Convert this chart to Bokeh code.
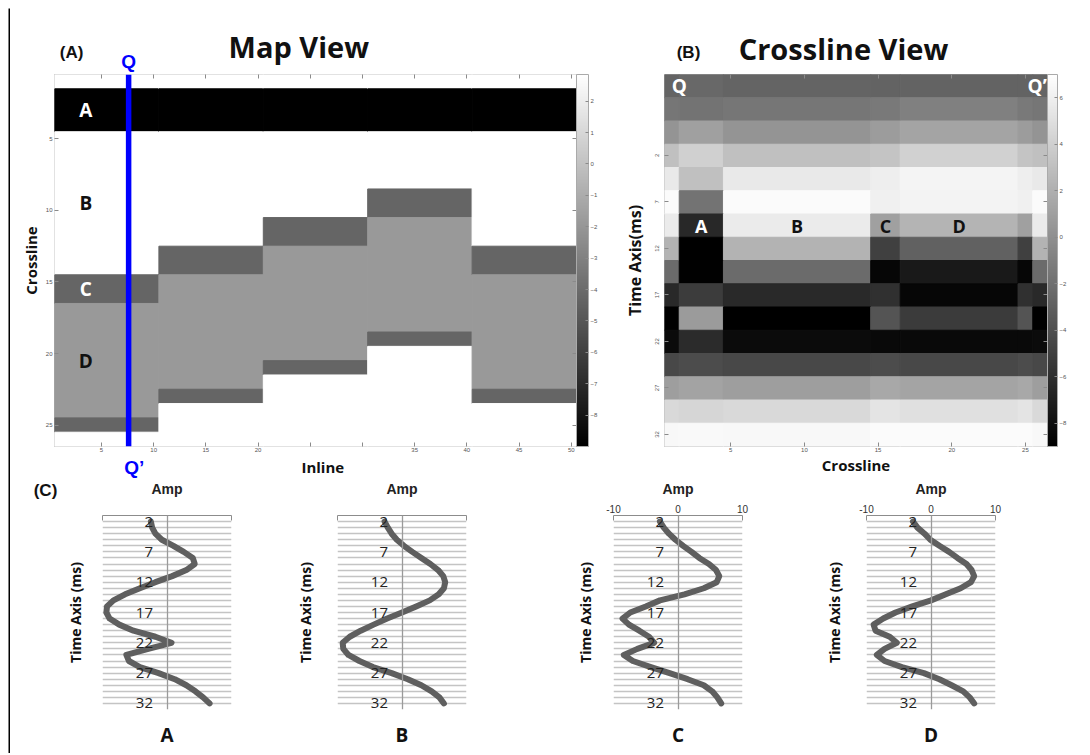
from bokeh.plotting import figure
from bokeh.layouts import row, column
from bokeh.models import (Range1d, LinearAxis, FixedTicker, Grid, ColorBar,
                          LinearColorMapper, Label, ColumnDataSource)
from bokeh.embed import file_html
from bokeh.resources import INLINE

# ------------------------------------------------------------------ data
# Map view: inline groups and the zone met along each crossline (rows 1..26)
inline_groups = [(1, 10), (11, 20), (21, 30), (31, 40), (41, 50)]
map_zones = [
    "BAAABBBBBBBBBBCCDDDDDDDDCB",
    "BAAABBBBBBBBCCDDDDDDDDCBBB",
    "BAAABBBBBBCCDDDDDDDDCBBBBB",
    "BAAABBBBCCDDDDDDDDCBBBBBBB",
    "BAAABBBBBBBBCCDDDDDDDDCBBB",
]
zone_names = ["A", "B", "C", "D"]
zone_map_amp = [-9.0, 2.85, -4.3, -1.9]
map_scale = (-9.0, 2.85)
map_cbar_ticks = [-8, -7, -6, -5, -4, -3, -2, -1, 0, 1, 2]
map_x_ticks = [5, 10, 15, 20, 25, 30, 35, 40, 45, 50]
map_x_labels = ["5", "10", "15", "20", "", "", "35", "40", "45", "50"]
map_y_ticks = [5, 10, 15, 20, 25]
q_inline = 7.6

# Synthetic traces (amplitude vs time, ms)
time_ms = list(range(2, 33))
trace_A = [-2.5, -2.3, -1.8, -0.8, 1.0, 2.6, 4.0, 4.3, 3.0, 0.8, -1.8, -4.2, -6.5, -8.3, -9.3, -9.4,
           -8.9, -7.4, -5.2, -1.8, 0.7, -2.9, -6.3, -5.9, -4.2, -1.3, 1.2, 3.0, 4.4, 5.6, 6.6]
trace_B = [-2.7, -2.2, -1.6, -0.8, 0.3, 1.6, 3.0, 4.4, 5.6, 6.4, 6.7, 6.5, 5.7, 4.3, 2.2, 0.0,
           -2.3, -4.4, -6.4, -8.1, -9.2, -9.1, -8.3, -6.6, -4.5, -1.6, 0.9, 3.0, 4.6, 5.8, 6.5]
trace_C = [-2.8, -2.2, -1.4, -0.4, 0.8, 2.1, 3.3, 4.8, 5.9, 6.4, 6.0, 4.0, 1.0, -2.8, -5.0, -7.4,
           -8.6, -7.6, -6.0, -4.5, -3.7, -6.3, -8.4, -7.0, -4.2, -1.3, 1.5, 4.0, 5.3, 6.1, 6.7]
trace_D = [-2.8, -2.1, -1.0, -0.1, 1.3, 2.8, 4.1, 5.5, 6.3, 6.7, 6.2, 4.6, 2.3, 0.0, -2.9, -5.5,
           -7.4, -8.9, -8.6, -6.4, -5.3, -7.2, -8.4, -7.2, -4.5, -1.1, 1.3, 3.2, 5.0, 6.0, 6.7]

# Crossline view
xline_sample_step = 2
xline_scale = (-9.0, 7.0)
xline_cbar_ticks = [-8, -6, -4, -2, 0, 2, 4, 6]
xline_x_ticks = [5, 10, 15, 20, 25]
xline_y_ticks = [2, 7, 12, 17, 22, 27, 32]
xline_y_extent = (-6.7, 33.3)
xline_label_time = 14

# Trace panels
amp_ticks = [-10, 0, 10]
trace_time_ticks = [2, 7, 12, 17, 22, 27, 32]
trace_grid_ms = list(range(1, 34))

# ------------------------------------------------------------------ style
FONT = "Open Sans"
ARIAL = "Liberation Sans"
TINY = "Liberation Sans"
GRAYS = ["#%02x%02x%02x" % (i, i, i) for i in range(256)]
traces = {"A": trace_A, "B": trace_B, "C": trace_C, "D": trace_D}


def runs(s):
    out, start = [], 0
    for i in range(1, len(s) + 1):
        if i == len(s) or s[i] != s[start]:
            out.append((s[start], start + 1, i))
            start = i
    return out


def make_fig(xr, yr, fw, fh, bl, br, bt, bb):
    p = figure(x_range=xr, y_range=yr, frame_width=fw, frame_height=fh,
               min_border_left=bl, min_border_right=br, min_border_top=bt,
               min_border_bottom=bb, x_axis_location=None, y_axis_location=None,
               toolbar_location=None, tools="", output_backend="svg")
    p.grid.visible = False
    p.background_fill_color = "white"
    p.border_fill_color = "white"
    p.outline_line_color = None
    return p


def bar_fig(w, h):
    p = make_fig(Range1d(0, 1), Range1d(0, 1), w, h, 0, 0, 0, 0)
    p.background_fill_color = "#000000"
    p.border_fill_color = "#000000"
    return p


def tick_axis(ticks, labels=None, label=None, tick_in=4, font_px=6, standoff=2,
              label_standoff=2, label_px=15, orientation="horizontal"):
    ax = LinearAxis(ticker=FixedTicker(ticks=ticks))
    ax.major_tick_in = tick_in
    ax.major_tick_out = 0
    ax.minor_tick_line_color = None
    ax.axis_line_color = None
    ax.major_tick_line_color = "#8a8a8a"
    ax.major_label_text_font = TINY
    ax.major_label_text_color = "#555555"
    ax.major_label_orientation = orientation
    if labels is None:
        ax.major_label_overrides = {t: "" for t in ticks}
        ax.major_label_text_font_size = "1px"
        ax.major_label_standoff = 0
    else:
        ax.major_label_overrides = {t: l for t, l in zip(ticks, labels)}
        ax.major_label_text_font_size = f"{font_px}px"
        ax.major_label_standoff = standoff
    if label:
        ax.axis_label = label
        ax.axis_label_text_font = FONT
        ax.axis_label_text_font_style = "bold"
        ax.axis_label_text_font_size = f"{label_px}px"
        ax.axis_label_text_color = "#111111"
        ax.axis_label_standoff = label_standoff
    return ax


def spacer_axis(px):
    ax = LinearAxis(ticker=FixedTicker(ticks=[]))
    ax.axis_line_color = None
    ax.major_tick_line_color = None
    ax.minor_tick_line_color = None
    ax.major_tick_in = 0
    ax.major_tick_out = px
    ax.major_label_standoff = 0
    return ax


def add_text(p, x, y, text, size, color="#111111", bold=True, align="center", font=FONT):
    p.add_layout(Label(x=x, y=y, text=text, text_font=font, text_font_size=f"{size}px",
                       text_font_style="bold" if bold else "normal", text_color=color,
                       text_align=align, text_baseline="middle"))


def colorbar(mapper, ticks, width):
    return ColorBar(color_mapper=mapper, ticker=FixedTicker(ticks=ticks), width=width,
                    height=372, padding=0, margin=0, label_standoff=2,
                    major_label_text_font=TINY, major_label_text_font_size="6px",
                    major_label_text_color="#555555", major_tick_in=3, major_tick_out=0,
                    major_tick_line_color="#8a8a8a", bar_line_color="#aaaaaa",
                    border_line_color=None, background_fill_alpha=0)


# ------------------------------------------------------------------ map view
MAP_BL, MAP_FW, MAP_BR = 44, 522, 44
map_x_range = Range1d(0.5, 50.5)
map_mapper = LinearColorMapper(palette=GRAYS, low=map_scale[0], high=map_scale[1])
pm = make_fig(map_x_range, Range1d(26.5, 0.5), MAP_FW, 372, MAP_BL, MAP_BR, 2, 10)
pm.outline_line_color = "#b0b0b0"
L, R, T, B, V = [], [], [], [], []
for (c0, c1), zs in zip(inline_groups, map_zones):
    for z, r0, r1 in runs(zs):
        L.append(c0 - 0.5); R.append(c1 + 0.5); T.append(r0 - 0.5); B.append(r1 + 0.5)
        V.append(zone_map_amp[zone_names.index(z)])
src = ColumnDataSource(dict(left=L, right=R, top=T, bottom=B, v=V))
pm.quad(left="left", right="right", top="top", bottom="bottom", source=src,
        fill_color={"field": "v", "transform": map_mapper},
        line_color={"field": "v", "transform": map_mapper}, line_width=1)
pm.segment(x0=[q_inline], y0=[0.5], x1=[q_inline], y1=[26.5], line_color="#0000ff", line_width=5.5)

pm.add_layout(tick_axis(map_x_ticks, map_x_labels, standoff=1), "below")
pm.add_layout(tick_axis(map_x_ticks), "above")
pm.add_layout(tick_axis(map_y_ticks, [str(t) for t in map_y_ticks], "Crossline",
                        standoff=2, label_standoff=2), "left")
pm.add_layout(tick_axis(map_y_ticks), "right")
pm.add_layout(spacer_axis(8), "right")
pm.add_layout(colorbar(map_mapper, map_cbar_ticks, 12), "right")

gi = next(i for i, (c0, c1) in enumerate(inline_groups) if c0 - 0.5 <= q_inline <= c1 + 0.5)
letter_color_map = {"A": "white", "B": "#111111", "C": "white", "D": "#111111"}
for z in zone_names:
    zr = max([r for r in runs(map_zones[gi]) if r[0] == z], key=lambda r: r[2] - r[1])
    add_text(pm, 3.5, (zr[1] + zr[2]) / 2, z, 19, letter_color_map[z])

# header above the map (x shared with the map, y in pixels from the top)
hm = make_fig(map_x_range, Range1d(64, 0), MAP_FW, 64, MAP_BL, MAP_BR, 0, 0)
add_text(hm, 23.9, 38, "Map View", 29)
add_text(hm, 2.13, 44, "(A)", 17, font=ARIAL)
add_text(hm, q_inline, 53, "Q", 19, "#0000ff", font=ARIAL)

# strip below the map
sm = make_fig(map_x_range, Range1d(22, 0), MAP_FW, 22, MAP_BL, MAP_BR, 0, 0)
add_text(sm, q_inline + 0.55, 11, "Q\u2019", 19, "#0000ff", font=ARIAL)
add_text(sm, 26.2, 10.5, "Inline", 15)

# ------------------------------------------------------------------ crossline view
XL_BL, XL_FW, XL_BR = 43, 383, 32
xl_mapper = LinearColorMapper(palette=GRAYS, low=xline_scale[0], high=xline_scale[1])
n_cols = len(map_zones[gi])
xl_x_range = Range1d(0.5, n_cols + 0.5)
px = make_fig(xl_x_range, Range1d(xline_y_extent[1], xline_y_extent[0]),
              XL_FW, 372, XL_BL, XL_BR, 2, 32)
px.outline_line_color = "#b0b0b0"
row_times = time_ms[::xline_sample_step]
row_h = (xline_y_extent[1] - xline_y_extent[0]) / len(row_times)
col_runs = runs(map_zones[gi])
L, R, T, B, V = [], [], [], [], []
for k, t in enumerate(row_times):
    ti = time_ms.index(t)
    for z, c0, c1 in col_runs:
        L.append(c0 - 0.5); R.append(c1 + 0.5)
        T.append(xline_y_extent[0] + k * row_h); B.append(xline_y_extent[0] + (k + 1) * row_h)
        V.append(traces[z][ti])
src2 = ColumnDataSource(dict(left=L, right=R, top=T, bottom=B, v=V))
px.quad(left="left", right="right", top="top", bottom="bottom", source=src2,
        fill_color={"field": "v", "transform": xl_mapper},
        line_color={"field": "v", "transform": xl_mapper}, line_width=1)
px.add_layout(tick_axis(xline_x_ticks, [str(t) for t in xline_x_ticks], "Crossline",
                        standoff=1, label_standoff=0), "below")
px.add_layout(tick_axis(xline_x_ticks), "above")
px.add_layout(tick_axis(xline_y_ticks, [str(t) for t in xline_y_ticks], "Time Axis(ms)",
                        standoff=5, label_standoff=7, label_px=16, orientation="vertical"), "left")
px.add_layout(tick_axis(xline_y_ticks), "right")
px.add_layout(spacer_axis(6), "right")
px.add_layout(colorbar(xl_mapper, xline_cbar_ticks, 10), "right")

row0_y = xline_y_extent[0] + 0.5 * row_h
add_text(px, 1.5, row0_y, "Q", 19, "white")
add_text(px, n_cols + 0.45, row0_y, "Q\u2019", 19, "white", align="right")
lab_k = row_times.index(xline_label_time)
lab_y = xline_y_extent[0] + (lab_k + 0.5) * row_h
xl_letter_color = {"A": "white", "B": "#111111", "C": "#111111", "D": "#111111"}
for z in zone_names:
    zr = max([r for r in col_runs if r[0] == z], key=lambda r: r[2] - r[1])
    add_text(px, (zr[1] + zr[2]) / 2, lab_y, z, 18, xl_letter_color[z])

hx = make_fig(xl_x_range, Range1d(64, 0), XL_FW, 64, XL_BL, XL_BR, 0, 0)
add_text(hx, 12.65, 40, "Crossline View", 29)
add_text(hx, 2.13, 44, "(B)", 17, font=ARIAL)


# ------------------------------------------------------------------ trace panels
TRACE_FW, TRACE_FH, TRACE_BT, TRACE_BB = 129, 194, 15, 40


def trace_fig(letter, amps, bl, br, amp_labels, ylab_standoff):
    p = make_fig(Range1d(-10, 10), Range1d(trace_grid_ms[-1], trace_grid_ms[0]), TRACE_FW,
                 TRACE_FH, bl, br, TRACE_BT, TRACE_BB)
    p.add_layout(Grid(dimension=1, ticker=FixedTicker(ticks=trace_grid_ms),
                      grid_line_color="#c4c4c4", grid_line_width=1.3))
    top = LinearAxis(ticker=FixedTicker(ticks=amp_ticks))
    top.axis_line_color = "#8c8c8c"
    top.major_tick_in = 5
    top.major_tick_out = 0
    top.major_tick_line_color = "#8c8c8c"
    top.minor_tick_line_color = None
    top.major_label_text_font = ARIAL
    top.major_label_text_color = "#333333"
    if amp_labels:
        top.major_label_text_font_size = "10px"
        top.major_label_standoff = 3
        top.major_label_overrides = {t: str(t) for t in amp_ticks}
    else:
        top.major_label_text_font_size = "1px"
        top.major_label_standoff = 0
        top.major_label_overrides = {t: "" for t in amp_ticks}
    p.add_layout(top, "above")

    lab = LinearAxis(ticker=FixedTicker(ticks=[]))
    lab.axis_line_color = None
    lab.major_tick_line_color = None
    lab.minor_tick_line_color = None
    lab.major_tick_out = 0
    lab.major_label_standoff = 0
    lab.axis_label = "Time Axis (ms)"
    lab.axis_label_text_font = FONT
    lab.axis_label_text_font_style = "bold"
    lab.axis_label_text_font_size = "14px"
    lab.axis_label_text_color = "#111111"
    lab.axis_label_standoff = ylab_standoff
    p.add_layout(lab, "left")

    yax = LinearAxis(ticker=FixedTicker(ticks=trace_time_ticks), fixed_location=0)
    yax.axis_line_color = "#9a9a9a"
    yax.axis_line_width = 1.3
    yax.major_tick_in = 0
    yax.major_tick_out = 0
    yax.minor_tick_line_color = None
    yax.major_label_standoff = 14
    yax.major_label_text_font = FONT
    yax.major_label_text_font_size = "15px"
    yax.major_label_text_color = "#222222"
    p.add_layout(yax, "left")

    bot = LinearAxis(ticker=FixedTicker(ticks=[]))
    bot.axis_line_color = None
    bot.major_tick_line_color = None
    bot.minor_tick_line_color = None
    bot.major_tick_out = 0
    bot.major_label_standoff = 0
    bot.axis_label = letter
    bot.axis_label_text_font = FONT
    bot.axis_label_text_font_style = "bold"
    bot.axis_label_text_font_size = "19px"
    bot.axis_label_text_color = "#111111"
    bot.axis_label_standoff = 12
    p.add_layout(bot, "below")

    p.line(x=amps, y=time_ms, line_width=6, line_color="#5f5f5f",
           line_join="round", line_cap="round")
    return p


# (letter, trace, left border, right border, amplitude labels shown, y-label standoff)
trace_specs = [
    ("A", trace_A, 92, 49, False, 18),
    ("B", trace_B, 57, 79, False, 23),
    ("C", trace_C, 68, 58, True, 19),
    ("D", trace_D, 66, 83, True, 23),
]
trace_figs = [trace_fig(*s) for s in trace_specs]

# strip above the trace panels: panel tag and the "Amp" titles over each panel frame
total_w = sum(s[2] + TRACE_FW + s[3] for s in trace_specs)
sc = make_fig(Range1d(0, total_w), Range1d(22, 0), total_w, 22, 0, 0, 0, 0)
add_text(sc, 35, 12, "(C)", 17, font=ARIAL)
x0 = 0
for s in trace_specs:
    add_text(sc, x0 + s[2] + TRACE_FW / 2, 10, "Amp", 14, "#222222", font=ARIAL)
    x0 += s[2] + TRACE_FW + s[3]

main = column(
    row(column(hm, pm, sm), column(hx, px)),
    sc,
    row(*trace_figs),
)

# thin frame lines on the left and top of the whole figure
layout = column(
    bar_fig(1075, 2),
    row(bar_fig(2, 745), main),
    margin=(6, 0, 0, 8),
)

open("out.html", "w").write(file_html(layout, INLINE))
